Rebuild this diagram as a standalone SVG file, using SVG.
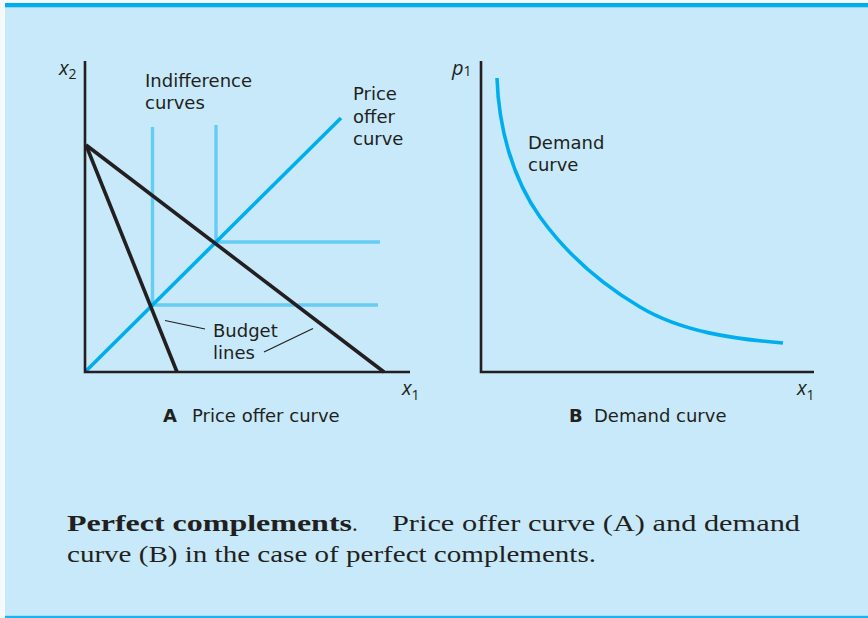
<svg xmlns="http://www.w3.org/2000/svg" width="868" height="618" viewBox="0 0 868 618">
<style>
.lbl{font-family:"DejaVu Sans","Open Sans",sans-serif;font-size:18px;fill:#231f20}
.var{font-family:"Open Sans","DejaVu Sans",sans-serif;font-size:20px;font-style:italic;fill:#231f20}
.sub{font-family:"Open Sans","DejaVu Sans",sans-serif;font-size:14px;fill:#231f20}
.cap{font-family:"Liberation Serif","DejaVu Serif",serif;font-size:23px;fill:#231f20}
.axis{stroke:#231f20;stroke-width:2.6;fill:none}
.budget{stroke:#231f20;stroke-width:3.6;fill:none;stroke-linecap:butt}
.ic{stroke:#66ccf4;stroke-width:3.4;fill:none}
.pc{stroke:#00aeef;stroke-width:3.6;fill:none}
.lead{stroke:#231f20;stroke-width:1.2;fill:none}
</style>
<rect x="0" y="0" width="868" height="618" fill="#f4f9fb"/>
<rect x="5" y="7" width="863" height="609" fill="#c7e9f9"/>
<rect x="5" y="3" width="863" height="4.3" fill="#00aeef"/>
<rect x="5" y="615.8" width="863" height="2.2" fill="#1fb3ec"/>

<g id="panelA">
<g id="indifference-curves">
<polyline class="ic" points="152.5,127 152.5,305 378,305"/>
<polyline class="ic" points="216,125 216,242 380,242"/>
</g>
<g id="price-offer-curve">
<line class="pc" x1="86" y1="371" x2="341" y2="118"/>
</g>
<g id="budget-lines">
<line class="budget" x1="86" y1="145" x2="177" y2="372"/>
<line class="budget" x1="86" y1="145" x2="384" y2="372"/>
</g>
<g id="axesA">
<polyline class="axis" points="85,61 85,372 410,372"/>
</g>
<g id="connectors">
<line class="lead" x1="165" y1="320.5" x2="205" y2="329"/>
<line class="lead" x1="264" y1="352" x2="313" y2="328.5"/>
</g>
<g id="labelsA">
<text class="var" x="59" y="75">x<tspan class="sub" dy="4" font-style="normal">2</tspan></text>
<text class="lbl" x="145" y="87">Indifference</text>
<text class="lbl" x="145" y="109">curves</text>
<text class="lbl" x="353" y="100">Price</text>
<text class="lbl" x="353" y="123">offer</text>
<text class="lbl" x="353" y="145">curve</text>
<text class="lbl" x="213" y="337">Budget</text>
<text class="lbl" x="213" y="359">lines</text>
<text class="var" x="402" y="395">x<tspan class="sub" dy="5" font-style="normal">1</tspan></text>
<text class="lbl" x="163" y="422"><tspan font-weight="bold">A</tspan><tspan x="192">Price offer curve</tspan></text>
</g>
</g>

<g id="panelB">
<g id="demand-curve">
<path class="pc" d="M497,78 C498.5,126 512,178 540,217 C566,253 601,284 640,307 C682,332 734,339 783,343"/>
</g>
<g id="axesB">
<polyline class="axis" points="481,61 481,372 814,372"/>
</g>
<g id="labelsB">
<text class="var" x="452" y="75">p<tspan class="sub" dy="1" font-style="normal">1</tspan></text>
<text class="lbl" x="528" y="149">Demand</text>
<text class="lbl" x="528" y="171">curve</text>
<text class="var" x="797" y="395">x<tspan class="sub" dy="5" font-style="normal">1</tspan></text>
<text class="lbl" x="569" y="422"><tspan font-weight="bold">B</tspan><tspan x="594">Demand curve</tspan></text>
</g>
</g>

<g id="caption">
<text class="cap" x="67" y="531" font-weight="bold" textLength="285" lengthAdjust="spacingAndGlyphs">Perfect complements</text>
<text class="cap" x="352" y="531">.</text>
<text class="cap" x="392" y="531" textLength="408" lengthAdjust="spacingAndGlyphs">Price offer curve (A) and demand</text>
<text class="cap" x="67" y="562" textLength="529" lengthAdjust="spacingAndGlyphs">curve (B) in the case of perfect complements.</text>
</g>
</svg>
